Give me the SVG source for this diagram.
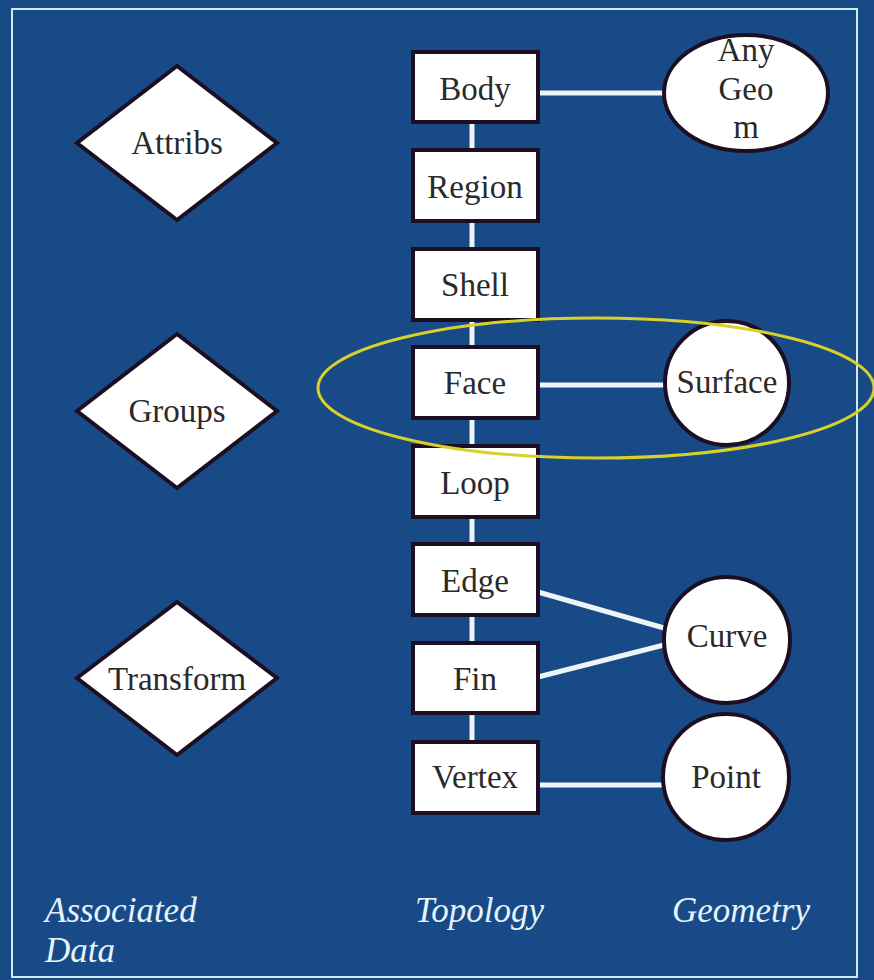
<svg xmlns="http://www.w3.org/2000/svg" width="874" height="980" viewBox="0 0 874 980">
<style>
.bg{fill:#174a86}
.frame{fill:none;stroke:#d4e8f6;stroke-width:2}
.box{fill:#ffffff;stroke:#1c0f22;stroke-width:4}
.geo{fill:#ffffff;stroke:#1c0f22;stroke-width:4}
.dia{fill:#ffffff;stroke:#1c0f22;stroke-width:4}
.lbl{font-family:'Liberation Serif','DejaVu Serif',serif;font-size:33px;fill:#2a2a2a;text-anchor:middle}
.cap{font-family:'Liberation Serif','DejaVu Serif',serif;font-size:35px;font-style:italic;fill:#e6f2fc}
.con{stroke:#eef4fa;stroke-width:5;fill:none}
.hl{fill:none;stroke:#d9d12a;stroke-width:3}
</style>
<rect class="bg" x="0" y="0" width="874" height="980"/>
<rect class="frame" x="12" y="9" width="845" height="968"/>
<g id="connectors">
<line class="con" x1="472" y1="122" x2="472" y2="741"/>
<line class="con" x1="538" y1="93" x2="664" y2="93"/>
<line class="con" x1="538" y1="385" x2="665" y2="385"/>
<line class="con" x1="538" y1="592" x2="664" y2="628"/>
<line class="con" x1="538" y1="677" x2="664" y2="645"/>
<line class="con" x1="538" y1="785" x2="663" y2="785"/>
</g>
<g id="attribs"><polygon class="dia" points="177,66 277,143 177,220 77,143"/><text class="lbl" x="177" y="154">Attribs</text></g>
<g id="groups"><polygon class="dia" points="177,334 277,411 177,488 77,411"/><text class="lbl" x="177" y="422">Groups</text></g>
<g id="transform"><polygon class="dia" points="177,602 277,678 177,755 77,678"/><text class="lbl" x="177" y="690">Transform</text></g>
<g id="body"><rect class="box" x="413" y="52" width="125" height="70"/><text class="lbl" x="475" y="100">Body</text></g>
<g id="region"><rect class="box" x="413" y="150" width="125" height="71"/><text class="lbl" x="475" y="198">Region</text></g>
<g id="shell"><rect class="box" x="413" y="249" width="125" height="71"/><text class="lbl" x="475" y="296">Shell</text></g>
<g id="face"><rect class="box" x="413" y="347" width="125" height="71"/><text class="lbl" x="475" y="394">Face</text></g>
<g id="loop"><rect class="box" x="413" y="446" width="125" height="71"/><text class="lbl" x="475" y="494">Loop</text></g>
<g id="edge"><rect class="box" x="413" y="544" width="125" height="71"/><text class="lbl" x="475" y="592">Edge</text></g>
<g id="fin"><rect class="box" x="413" y="643" width="125" height="70"/><text class="lbl" x="475" y="690">Fin</text></g>
<g id="vertex"><rect class="box" x="413" y="742" width="125" height="71"/><text class="lbl" x="475" y="788">Vertex</text></g>
<g id="anygeom"><ellipse class="geo" cx="746" cy="93" rx="82" ry="58"/><text class="lbl" x="746" y="61">Any</text><text class="lbl" x="746" y="100">Geo</text><text class="lbl" x="746" y="138">m</text></g>
<g id="surface"><circle class="geo" cx="727" cy="383" r="62"/><text class="lbl" x="727" y="393">Surface</text></g>
<g id="curve"><circle class="geo" cx="727" cy="640" r="63"/><text class="lbl" x="727" y="647">Curve</text></g>
<g id="point"><circle class="geo" cx="726" cy="777" r="63"/><text class="lbl" x="726" y="788">Point</text></g>
<g id="highlight"><ellipse class="hl" cx="596" cy="388" rx="278" ry="70"/></g>
<g id="captions">
<text class="cap" x="45" y="922">Associated</text>
<text class="cap" x="45" y="962">Data</text>
<text class="cap" x="415" y="922">Topology</text>
<text class="cap" x="672" y="922">Geometry</text>
</g>
</svg>
